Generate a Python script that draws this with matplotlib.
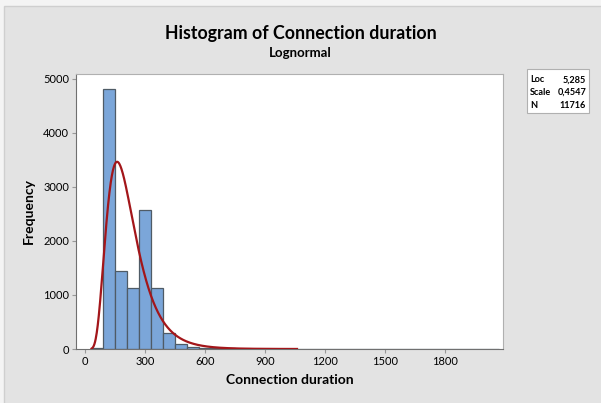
import numpy as np
import matplotlib
matplotlib.use('Agg')
import matplotlib.pyplot as plt
from matplotlib.patches import Rectangle

plt.rcParams['font.family'] = ['Lato', 'DejaVu Sans']

# histogram bins (width 60) and counts
bin_left = [30, 90, 150, 210, 270, 330, 390, 450, 510, 570, 630, 690, 750,
            810, 870, 930, 990, 1050, 1110, 1170, 1230, 1290, 1350, 1410,
            1470, 1530, 1590, 1650, 1710, 1770, 1830, 1890, 1950, 2010]
counts = [25, 4820, 1450, 1130, 2570, 1130, 300, 92, 38, 25, 15, 10, 8,
          4, 3, 2, 2, 1, 1, 1, 1, 1, 1, 1,
          1, 1, 1, 1, 1, 1, 1, 1, 1, 1]
bin_width = 60

# lognormal fit
loc = 5.285
scale = 0.4547
n_obs = 11716

x_ticks = [0, 300, 600, 900, 1200, 1500, 1800]
y_ticks = [0, 1000, 2000, 3000, 4000, 5000]

bg = '#e3e3e3'
fig = plt.figure(figsize=(6.01, 4.03), dpi=100, facecolor='#f4f4f4')
fig.patches.append(Rectangle((4 / 601, -0.01), 1.0, 1 - 6 / 403 + 0.01,
                             transform=fig.transFigure, facecolor=bg,
                             edgecolor='#cfcfcf', lw=1, zorder=-10))

ax = fig.add_axes([76 / 601, 1 - 349 / 403, 427 / 601, 275 / 403])
ax.bar(bin_left, counts, width=bin_width, align='edge', color='#7ba6d9',
       edgecolor='#4f5b66', linewidth=0.9, zorder=2)

# fitted curve scaled to counts
xs = np.linspace(33, 1060, 600)
pdf = np.exp(-(np.log(xs) - loc) ** 2 / (2 * scale ** 2)) / (xs * scale * np.sqrt(2 * np.pi))
ax.plot(xs, pdf * n_obs * bin_width, color='#a3161a', lw=1.6, zorder=3)

ax.set_xlim(-45, 2090)
ax.set_ylim(0, 5090)
ax.set_xticks(x_ticks)
ax.set_yticks(y_ticks)
ax.tick_params(labelsize=8, length=3, color='#999999', pad=2)
for s in ['top', 'right']:
    ax.spines[s].set_color('#b0b0b0')
for s in ['left', 'bottom']:
    ax.spines[s].set_color('#707070')

ax.set_xlabel('Connection duration', fontsize=10, fontweight='bold', labelpad=5)
ax.set_ylabel('Frequency', fontsize=10, fontweight='bold', labelpad=6)

fig.text(0.5, 1 - 33 / 403, 'Histogram of Connection duration', ha='center',
         va='center', fontsize=12.8, fontweight='bold')
fig.text(0.5, 1 - 53 / 403, 'Lognormal', ha='center', va='center',
         fontsize=9.5, fontweight='bold')

# stats box
fig.patches.append(Rectangle((527 / 601, 1 - 113 / 403), 62 / 601, 44 / 403,
                             transform=fig.transFigure, facecolor='white',
                             edgecolor='#b0b0b0', lw=0.8))
rows = [('Loc', '5,285'), ('Scale', '0,4547'), ('N', '11716')]
for i, (k, v) in enumerate(rows):
    y = 1 - (80 + i * 12.5) / 403
    fig.text(530 / 601, y, k, fontsize=6.6, fontweight='bold', va='center')
    fig.text(586 / 601, y, v, fontsize=6.6, fontweight='bold', va='center', ha='right')

fig.savefig('out.png', dpi=100, facecolor=fig.get_facecolor())
